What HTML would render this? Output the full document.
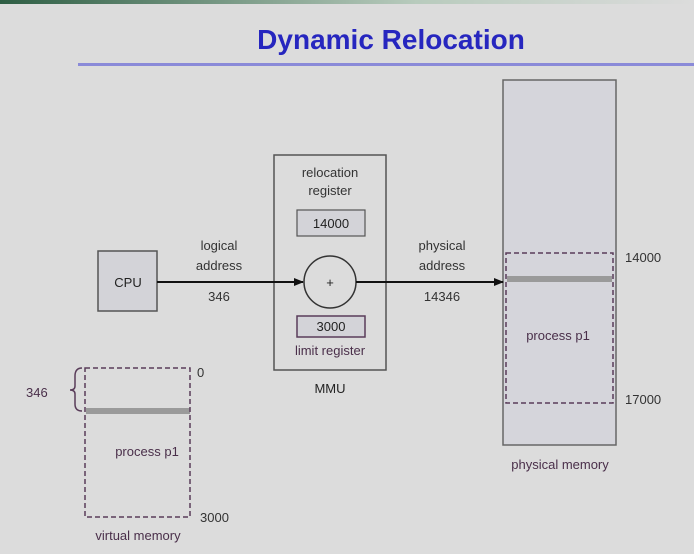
<!DOCTYPE html>
<html><head><style>body{margin:0;background:#dcdcdc}svg{display:block}</style></head><body>
<svg width="694" height="554" viewBox="0 0 694 554" xmlns="http://www.w3.org/2000/svg" font-family="Liberation Sans, sans-serif">
<defs>
<linearGradient id="g" x1="0" x2="1"><stop offset="0" stop-color="#2e5e44"/><stop offset="0.6" stop-color="#b8cbbd"/><stop offset="1" stop-color="#dcdcdc"/></linearGradient>
<marker id="a" markerWidth="10" markerHeight="8" refX="9" refY="4" orient="auto" markerUnits="userSpaceOnUse"><path d="M0,0 L10,4 L0,8z" fill="#111"/></marker>
</defs>
<rect width="694" height="554" fill="#dcdcdc"/>
<rect width="694" height="4" fill="url(#g)"/>
<text x="391" y="49" text-anchor="middle" font-size="28" font-weight="bold" fill="#2626bf">Dynamic Relocation</text>
<rect x="78" y="63" width="616" height="3" fill="#8a8ad8"/>
<rect x="503" y="80" width="113" height="365" fill="#d5d5db" stroke="#666" stroke-width="1.5"/>
<rect x="507" y="276" width="105" height="6" fill="#9a9a9a"/>
<rect x="506" y="253" width="107" height="150" fill="none" stroke="#5a3d5a" stroke-width="1.5" stroke-dasharray="5,3"/>
<text x="558" y="340" text-anchor="middle" font-size="13" fill="#4a2f4a">process p1</text>
<text x="560" y="469" text-anchor="middle" font-size="13" fill="#4a2f4a">physical memory</text>
<text x="625" y="262" font-size="13" fill="#333">14000</text>
<text x="625" y="404" font-size="13" fill="#333">17000</text>
<rect x="98" y="251" width="59" height="60" fill="#d3d3d8" stroke="#555" stroke-width="1.5"/>
<text x="128" y="287" text-anchor="middle" font-size="13" fill="#222">CPU</text>
<rect x="274" y="155" width="112" height="215" fill="#dcdcdc" stroke="#555" stroke-width="1.5"/>
<text x="330" y="177" text-anchor="middle" font-size="13" fill="#333">relocation</text>
<text x="330" y="195" text-anchor="middle" font-size="13" fill="#333">register</text>
<rect x="297" y="210" width="68" height="26" fill="#d3d3d8" stroke="#555" stroke-width="1.2"/>
<text x="331" y="228" text-anchor="middle" font-size="13" fill="#222">14000</text>
<circle cx="330" cy="282" r="26" fill="#dcdcdc" stroke="#333" stroke-width="1.5"/>
<text x="330" y="287" text-anchor="middle" font-size="13" fill="#222">+</text>
<rect x="297" y="316" width="68" height="21" fill="#d3d3d8" stroke="#5a3d5a" stroke-width="1.5"/>
<text x="331" y="331" text-anchor="middle" font-size="13" fill="#222">3000</text>
<text x="330" y="355" text-anchor="middle" font-size="13" fill="#4a2f4a">limit register</text>
<text x="330" y="393" text-anchor="middle" font-size="13" fill="#222">MMU</text>
<line x1="157" y1="282" x2="303" y2="282" stroke="#111" stroke-width="2" marker-end="url(#a)"/>
<line x1="356" y1="282" x2="503" y2="282" stroke="#111" stroke-width="2" marker-end="url(#a)"/>
<text x="219" y="250" text-anchor="middle" font-size="13" fill="#333">logical</text>
<text x="219" y="270" text-anchor="middle" font-size="13" fill="#333">address</text>
<text x="219" y="301" text-anchor="middle" font-size="13" fill="#333">346</text>
<text x="442" y="250" text-anchor="middle" font-size="13" fill="#333">physical</text>
<text x="442" y="270" text-anchor="middle" font-size="13" fill="#333">address</text>
<text x="442" y="301" text-anchor="middle" font-size="13" fill="#333">14346</text>
<rect x="86" y="408" width="104" height="6" fill="#9a9a9a"/>
<rect x="85" y="368" width="105" height="149" fill="none" stroke="#5a3d5a" stroke-width="1.5" stroke-dasharray="5,3"/>
<path d="M82,368 Q75,368 75,376 L75,386 Q75,390 70,390 Q75,390 75,394 L75,404 Q75,411 82,411" fill="none" stroke="#5a3d5a" stroke-width="1.5"/>
<text x="26" y="397" font-size="13" fill="#4a2f4a">346</text>
<text x="197" y="377" font-size="13" fill="#333">0</text>
<text x="200" y="522" font-size="13" fill="#333">3000</text>
<text x="147" y="456" text-anchor="middle" font-size="13" fill="#4a2f4a">process p1</text>
<text x="138" y="540" text-anchor="middle" font-size="13" fill="#4a2f4a">virtual memory</text>
</svg>
</body></html>
